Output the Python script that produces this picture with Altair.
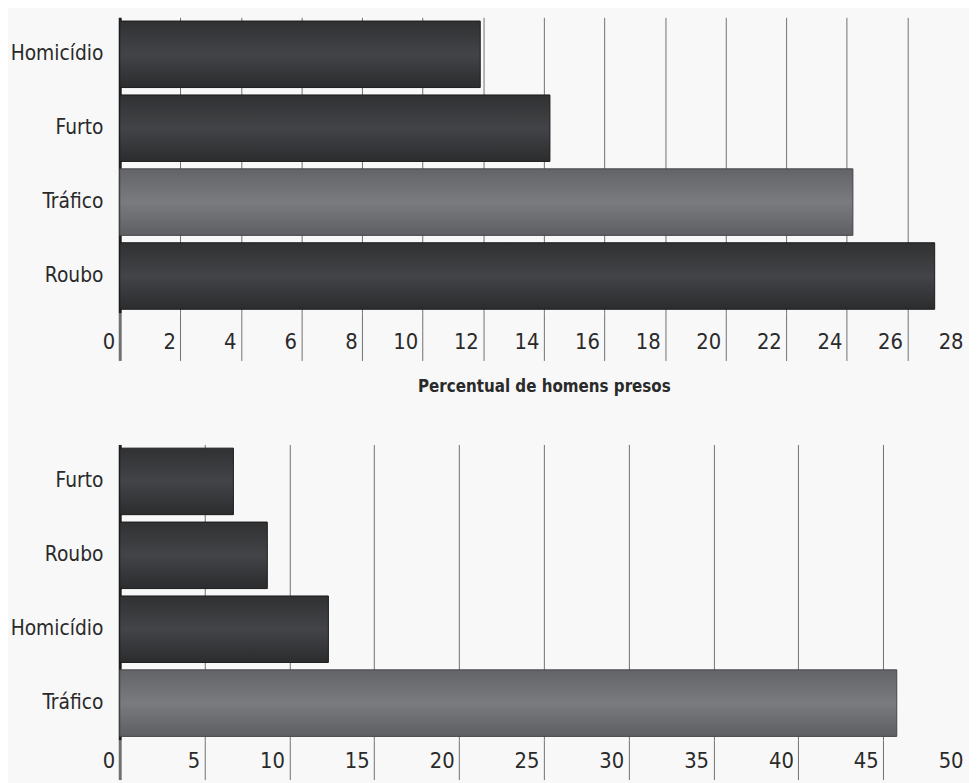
import altair as alt
import pandas as pd

# ---- data ----
top_categories = ["Homicídio", "Furto", "Tráfico", "Roubo"]
top_values = [11.9, 14.2, 24.2, 26.9]
top_ticks = [0, 2, 4, 6, 8, 10, 12, 14, 16, 18, 20, 22, 24, 26, 28]

bottom_categories = ["Furto", "Roubo", "Homicídio", "Tráfico"]
bottom_values = [6.7, 8.7, 12.3, 45.8]
bottom_ticks = [0, 5, 10, 15, 20, 25, 30, 35, 40, 45, 50]

highlight = "Tráfico"
x_title = "Percentual de homens presos"

FONT = "DejaVu Sans Condensed, sans-serif"
TEXT = "#2a2a2a"

dark_grad = alt.Gradient(
    gradient="linear", x1=0, x2=0, y1=0, y2=1,
    stops=[
        alt.GradientStop(offset=0, color="#303133"),
        alt.GradientStop(offset=0.5, color="#434447"),
        alt.GradientStop(offset=1, color="#2b2c2e"),
    ],
)
light_grad = alt.Gradient(
    gradient="linear", x1=0, x2=0, y1=0, y2=1,
    stops=[
        alt.GradientStop(offset=0, color="#636468"),
        alt.GradientStop(offset=0.5, color="#7a7b7f"),
        alt.GradientStop(offset=1, color="#5e5f62"),
    ],
)


def panel(cats, vals, ticks, tick_size, title):
    df = pd.DataFrame({"cat": cats, "val": vals})
    xmax = ticks[-1]
    x_axis = alt.Axis(
        values=ticks,
        grid=True,
        gridColor={"condition": {"test": f"datum.value >= {xmax} || datum.value === 0", "value": "transparent"}, "value": "#707070"},
        gridWidth=1,
        domain=False,
        ticks=True,
        tickSize=tick_size,
        tickColor={"condition": {"test": f"datum.value >= {xmax}", "value": "transparent"}, "value": "#707070"},
        tickWidth={"condition": {"test": "datum.value === 0", "value": 3}, "value": 1},
        labelAlign="right",
        labelOffset=-5,
        labelPadding=-29,
        labelFlush=False,
        labelOverlap=False,
        labelBound=False,
        labelFont=FONT,
        labelFontSize=22,
        labelColor=TEXT,
        title=title,
        titleFont=FONT,
        titleFontSize=17,
        titleFontWeight="bold",
        titleColor=TEXT,
        titlePadding=17,
    )
    y_axis = alt.Axis(
        title="",
        ticks=False,
        domain=True,
        domainColor="#1e1e1e",
        domainWidth=3,
        labelPadding=17,
        labelFont=FONT,
        labelFontSize=21,
        labelColor=TEXT,
    )
    base = alt.Chart(df).encode(
        y=alt.Y("cat:N", sort=cats, axis=y_axis,
                scale=alt.Scale(paddingInner=0.1, paddingOuter=0.05)),
        x=alt.X("val:Q", axis=x_axis,
                scale=alt.Scale(domain=[0, xmax], nice=False, zero=True)),
    )
    dark = base.transform_filter(alt.datum.cat != highlight).mark_bar(
        color=dark_grad, stroke="#1b1b1b", strokeWidth=1
    )
    light = base.transform_filter(alt.datum.cat == highlight).mark_bar(
        color=light_grad, stroke="#444446", strokeWidth=1
    )
    return alt.layer(dark, light).properties(width=858, height=299)


top = panel(top_categories, top_values, top_ticks, 48, x_title)
bottom = panel(bottom_categories, bottom_values, bottom_ticks, 40, "")

chart = alt.vconcat(top, bottom, spacing=50).properties(
    background="#f8f8f8",
    padding={"left": 2, "top": 5, "right": 0, "bottom": 0},
).configure_view(stroke=None)

chart.save("out.html", embed_options={"renderer": "svg", "actions": False})
